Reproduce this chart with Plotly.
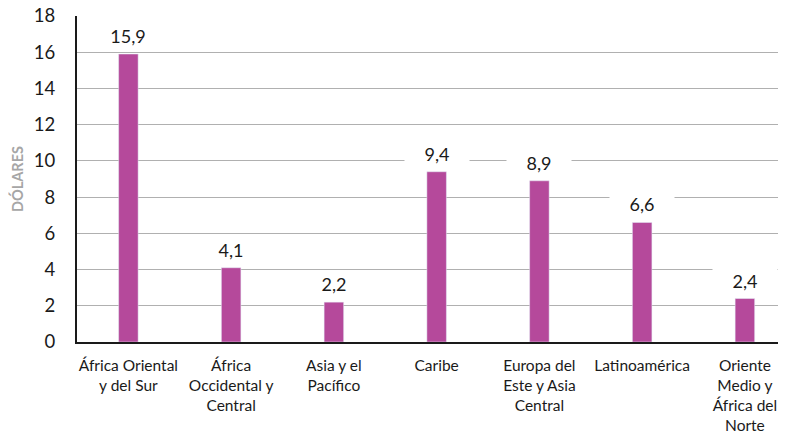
import plotly.graph_objects as go

# data
regiones = ['África Oriental<br>y del Sur', 'África<br>Occidental y<br>Central', 'Asia y el<br>Pacífico',
            'Caribe', 'Europa del<br>Este y Asia<br>Central', 'Latinoamérica',
            'Oriente<br>Medio y<br>África del<br>Norte']
valores = [15.9, 4.1, 2.2, 9.4, 8.9, 6.6, 2.4]
etiquetas = ['15,9', '4,1', '2,2', '9,4', '8,9', '6,6', '2,4']

color_barra = '#b5499b'
fuente = 'Lato'

fig = go.Figure(go.Bar(x=regiones, y=valores, marker_color=color_barra, width=0.19))

# value labels with white boxes that break the gridlines
for reg, val, txt in zip(regiones, valores, etiquetas):
    fig.add_annotation(x=reg, y=val, text=txt, showarrow=False, yanchor='bottom', yshift=4,
                       bgcolor='white', width=62, height=24,
                       font=dict(family=fuente, size=18, color='#1a1a1a'))

# the page body adds 8px on top/left, so margins are offset to compensate
fig.update_layout(
    width=786, height=434,
    margin=dict(l=69, r=8, t=8, b=100),
    plot_bgcolor='white', paper_bgcolor='white',
    showlegend=False,
    font=dict(family=fuente, color='#1a1a1a'),
)
fig.update_xaxes(range=[-0.5, 6.4], showline=True, linecolor='#1a1a1a', linewidth=2,
                 tickfont=dict(size=15.5), ticks='', showgrid=False, automargin=False,
                 ticklabelstandoff=8, ticklabeloverflow='allow')
fig.update_yaxes(range=[0, 18], tickvals=list(range(0, 19, 2)), showline=True,
                 linecolor='#1a1a1a', linewidth=2,
                 gridcolor='#b0b0b0', gridwidth=1, zeroline=False, automargin=False,
                 tickfont=dict(size=18.5), ticks='', ticklabelstandoff=16,
                 ticklabeloverflow='allow',
                 title=dict(text='<b>DÓLARES</b>', font=dict(size=14.5, color='#a6a6a6'), standoff=17))

fig.write_html("out.html")
